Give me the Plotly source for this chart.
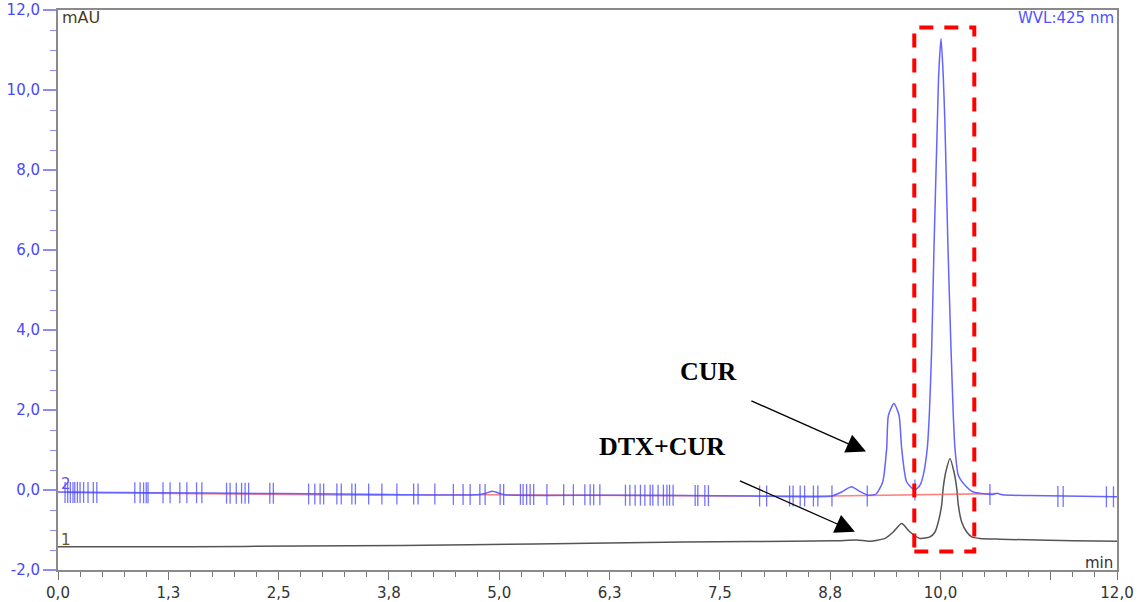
import plotly.graph_objects as go

# ---- data ----
# Channel 2 (CUR), blue trace: retention time (min) / absorbance (mAU)
cur_time = [0.00, 0.50, 1.00, 2.00, 2.50, 3.75, 4.75, 4.85, 4.92, 5.00, 5.06, 6.30, 7.84,
            8.77, 8.88, 8.99, 9.08, 9.18, 9.27, 9.345, 9.39, 9.41, 9.473, 9.53, 9.56, 9.617,
            9.711, 9.768, 9.805, 9.85, 9.873, 9.90, 9.926, 9.964, 9.98, 10.006, 10.03, 10.05,
            10.085, 10.119, 10.145, 10.164, 10.202, 10.278, 10.372, 10.595, 10.64, 10.70,
            11.00, 12.00]
cur_mau = [-0.05, -0.06, -0.07, -0.08, -0.09, -0.11, -0.12, -0.08, -0.03, -0.08, -0.12, -0.13, -0.15,
           -0.15, -0.05, 0.08, -0.03, -0.13, -0.10, 0.20, 1.04, 1.87, 2.16, 1.87, 1.04, 0.20,
           0.00, 0.12, 0.37, 1.04, 1.87, 3.54, 6.04, 9.16, 10.41, 11.29, 10.41, 9.16,
           6.04, 3.54, 1.87, 1.04, 0.37, 0.12, -0.05, -0.11, -0.08, -0.12,
           -0.14, -0.17]

# Channel 1 (DTX+CUR), black trace
dtx_time = [0.00, 1.50, 2.75, 3.90, 5.40, 7.10, 7.84, 8.80, 9.05, 9.20, 9.371, 9.465, 9.56,
            9.654, 9.768, 9.881, 9.938, 9.975, 10.013, 10.03, 10.06, 10.108, 10.153, 10.184,
            10.202, 10.24, 10.297, 10.354, 10.448, 10.674, 11.50, 12.00]
dtx_mau = [-1.42, -1.42, -1.40, -1.39, -1.35, -1.30, -1.29, -1.27, -1.25, -1.28, -1.21, -1.05, -0.84,
           -1.05, -1.21, -1.17, -1.05, -0.80, -0.38, 0.04, 0.45, 0.79, 0.45, 0.04,
           -0.38, -0.80, -1.05, -1.17, -1.21, -1.23, -1.27, -1.28]

# Integration baseline (red) of channel 2
base_time = [0.10, 2.50, 3.60, 4.20, 4.78, 5.04, 7.84, 8.77, 10.62]
base_mau = [-0.06, -0.10, -0.13, -0.12, -0.12, -0.12, -0.15, -0.15, -0.09]

# Peak delimiter marks on channel 2
mark_time = [0.08, 0.11, 0.14, 0.17, 0.19, 0.22, 0.25, 0.29, 0.34, 0.40, 0.44,
             0.87, 0.93, 0.97, 1.00, 1.02, 1.19, 1.27, 1.38, 1.46, 1.57, 1.63,
             1.91, 1.95, 2.02, 2.08, 2.12, 2.16, 2.40, 2.44,
             2.84, 2.91, 2.97, 3.01, 3.16, 3.21, 3.33, 3.37, 3.52, 3.67, 3.84, 4.03, 4.08, 4.27,
             4.48, 4.59, 4.67, 4.78, 4.84, 5.01, 5.05, 5.24, 5.27, 5.31, 5.35, 5.39, 5.54,
             5.73, 5.84, 5.97, 6.03, 6.07, 6.14,
             6.43, 6.48, 6.54, 6.60, 6.65, 6.71, 6.74, 6.80, 6.86, 6.90, 6.93, 6.97,
             7.22, 7.25, 7.33, 7.37, 7.95, 8.03, 8.29, 8.33, 8.41, 8.46, 8.56, 8.61, 8.77, 9.17,
             9.71, 10.56, 11.33, 11.39, 11.88, 11.96]
mark_mau = [-0.06] * 11 + [-0.07] * 11 + [-0.08] * 8 + \
           [-0.10] * 14 + [-0.11] * 13 + [-0.12] * 6 + \
           [-0.13] * 12 + [-0.14] * 4 + [-0.15] * 10 + \
           [0.00, -0.11, -0.16, -0.16, -0.17, -0.17]

x_tickvals = [0.0, 1.25, 2.5, 3.75, 5.0, 6.25, 7.5, 8.75, 10.0, 11.25, 12.0]
x_ticktext = ["0,0", "1,3", "2,5", "3,8", "5,0", "6,3", "7,5", "8,8", "10,0", "", "12,0"]
y_tickvals = [-2, 0, 2, 4, 6, 8, 10, 12]
y_ticktext = ["-2,0", "0,0", "2,0", "4,0", "6,0", "8,0", "10,0", "12,0"]

# ---- figure ----
W, H = 1147, 602
L, R, T, B = 58, 30, 10, 32
pw, ph = W - L - R, H - T - B


def px(xp, yp):
    return (xp - L) / pw, (H - B - yp) / ph


fig = go.Figure()
fig.add_trace(go.Scatter(x=dtx_time, y=dtx_mau, mode="lines",
                         line=dict(color="#555555", width=1.5, shape="spline", smoothing=0.6),
                         hoverinfo="skip", showlegend=False))
fig.add_trace(go.Scatter(x=base_time, y=base_mau, mode="lines",
                         line=dict(color="rgba(255,90,90,0.75)", width=1.6),
                         hoverinfo="skip", showlegend=False))
fig.add_trace(go.Scatter(x=cur_time, y=cur_mau, mode="lines",
                         line=dict(color="#6464ff", width=1.5, shape="spline", smoothing=0.6),
                         hoverinfo="skip", showlegend=False))
fig.add_trace(go.Scatter(x=mark_time, y=mark_mau, mode="markers",
                         marker=dict(symbol="line-ns", size=15,
                                     line=dict(color="rgba(70,70,255,0.75)", width=1.3)),
                         hoverinfo="skip", showlegend=False))

# highlight box
fig.add_shape(type="rect", x0=9.703, x1=10.383, y0=-1.54, y1=11.56, xref="x", yref="y",
              line=dict(color="#ff0000", width=4, dash="14px,11px"), fillcolor="rgba(0,0,0,0)")

serif = "Liberation Serif, Times New Roman, serif"
fig.add_annotation(x=9.156, y=0.96, ax=7.84, ay=2.245, xref="x", yref="y", axref="x", ayref="y",
                   text="", showarrow=True, arrowhead=2, arrowsize=3.0, arrowwidth=1.3,
                   arrowcolor="black")
fig.add_annotation(x=9.03, y=-1.045, ax=7.71, ay=0.245, xref="x", yref="y", axref="x", ayref="y",
                   text="", showarrow=True, arrowhead=2, arrowsize=3.0, arrowwidth=1.3,
                   arrowcolor="black")

for txt, xp, yp in (("<b>CUR</b>", 708, 388), ("<b>DTX+CUR</b>", 662, 463)):
    xx, yy = px(xp, yp)
    fig.add_annotation(x=xx, y=yy, xref="paper", yref="paper", text=txt, showarrow=False,
                       font=dict(family=serif, size=26, color="black"))


def add_text(text, xp, yp, anchor, color, size):
    xx, yy = px(xp, yp)
    fig.add_annotation(x=xx, y=yy, xref="paper", yref="paper", text=text, showarrow=False,
                       xanchor=anchor, yanchor="middle",
                       font=dict(family="DejaVu Sans, Verdana, sans-serif", size=size, color=color))


add_text("mAU", 60, 18, "left", "#4a3b1f", 16)
add_text("WVL:425 nm", 1116, 18, "right", "#5050ff", 15)
add_text("min", 1115, 563, "right", "#333333", 15)
add_text("2", 59, 484, "left", "#6a4aff", 15)
add_text("1", 59, 540, "left", "#6b5520", 15)

fig.update_layout(
    width=W, height=H,
    margin=dict(l=L, r=R, t=T, b=B, autoexpand=False),
    paper_bgcolor="white", plot_bgcolor="white",
    font=dict(family="DejaVu Sans, Verdana, sans-serif", size=15, color="#333333"),
    xaxis=dict(range=[0, 12], tickmode="array", tickvals=x_tickvals, ticktext=x_ticktext,
               automargin=False,
               showgrid=False, zeroline=False, showline=True, linecolor="#8a8a8a", linewidth=2,
               mirror=True, ticks="outside", ticklen=8, tickcolor="#777777", tickwidth=1.3,
               tickfont=dict(size=15, color="#333333"),
               minor=dict(dtick=0.25, tick0=0, ticks="outside", ticklen=5, tickcolor="#777777")),
    yaxis=dict(range=[-2, 12], tickmode="array", tickvals=y_tickvals, ticktext=y_ticktext,
               automargin=False,
               showgrid=False, zeroline=False, showline=True, linecolor="#8a8a8a", linewidth=2,
               mirror=True, ticks="outside", ticklen=13, tickcolor="#8c8cff", tickwidth=1.5,
               tickfont=dict(size=15, color="#4848ff"),
               minor=dict(dtick=0.5, tick0=0, ticks="outside", ticklen=6, tickcolor="#8c8cff",
                          tickwidth=1.3)),
)

fig.write_html("out.html")
